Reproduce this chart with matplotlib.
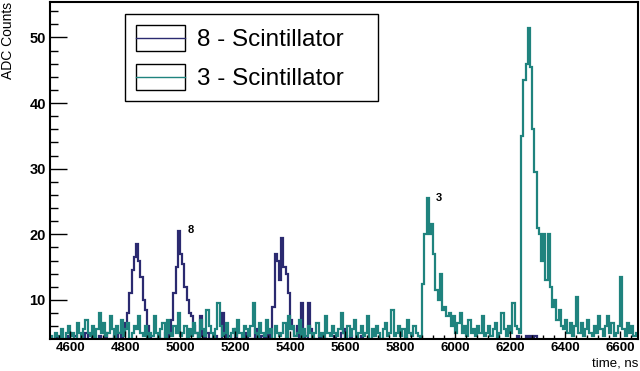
import numpy as np
import matplotlib
matplotlib.use("Agg")
import matplotlib.pyplot as plt
from matplotlib.legend_handler import HandlerBase
from matplotlib.patches import Rectangle
from matplotlib.lines import Line2D

plt.rcParams['font.family'] = ['Liberation Sans', 'DejaVu Sans']

# Binning of the time histograms (ns)
bin_start = 4528
bin_width = 8

# Counts per bin, scintillator 8 (navy)
counts_8 = [
    3, 3.5, 4.5, 3, 3, 4, 3, 3.5, 4.5, 3,
    3, 4.5, 3, 3, 4, 3, 5, 3, 3.5, 4.5,
    3, 3, 4.5, 3.5, 3, 5, 3, 4, 3, 4.5,
    3, 5, 4, 5, 6.5, 8, 11, 14.5, 16.5, 18.5,
    16, 13.5, 10, 8.5, 6, 4.5, 3, 4, 3, 3.5,
    4, 3, 5, 3.5, 5, 7, 11, 15, 20.5, 17,
    15.5, 12, 10, 8, 7.5, 6, 5, 4, 7.5, 4.5,
    3.5, 5, 3, 4, 3, 4.5, 3, 3.5, 8, 5,
    3, 4.5, 3, 3, 5.5, 3, 3.5, 4, 3, 5,
    3, 4, 3, 5.5, 3.5, 3, 4.5, 3, 5, 4,
    5, 9, 17, 16, 13, 19.5, 15, 14, 11, 7,
    5.5, 4.5, 6, 3.5, 9.5, 5, 4, 9.5, 5.5, 3,
    4, 3, 4.5, 3, 3, 4, 3, 3.5, 3, 4.5,
    3, 3, 5, 5.5, 4, 3, 4.5, 3, 3, 4,
    3, 4.5, 3, 3, 3.5, 3, 4, 3, 3, 3,
    3, 3, 4, 3, 3, 3, 3.5, 3, 3, 3,
    3, 4.5, 3, 3, 3, 3, 3, 4, 3, 3,
    3, 3, 3, 3, 3, 3, 3, 3, 3, 3,
    3, 3, 3, 4, 3, 3, 3, 3, 3, 3,
    3, 3, 3, 3, 3, 3, 3, 3, 3, 3,
    3, 3, 3, 3, 3, 3, 3, 3, 3, 3,
    3, 3, 4.5, 3, 3, 3, 4.5, 3, 4.5, 3,
    4.5, 3, 3, 3, 3, 3, 3, 3, 3, 3,
    3, 3, 3, 3, 3, 3, 3, 3, 3, 3,
    3, 3, 3, 3, 3, 3, 3, 3, 3, 3,
    3, 3, 3, 3, 3, 3, 3, 3, 3, 3,
    3, 3, 3, 3, 3, 3, 3,
]

# Counts per bin, scintillator 3 (teal)
counts_3 = [
    4.5, 4, 5, 4.5, 4, 5.5, 4, 5, 6, 4.5,
    5, 4, 6.5, 5, 4, 5.5, 7, 5, 4.5, 6,
    4, 5.5, 8, 5, 6.5, 4.5, 5, 7.5, 5.5, 4,
    6, 5, 7, 4.5, 5.5, 6.5, 4, 5, 6, 5.5,
    7.5, 5, 4.5, 6, 4, 5, 4.5, 7.5, 5, 4,
    5.5, 6.5, 4, 7, 5, 4.5, 6, 5, 8, 4.5,
    5, 6, 4, 5.5, 4.5, 6.5, 5, 4, 7, 5.5,
    4.5, 8.5, 6, 5, 4, 5.5, 9.5, 6, 4.5, 5,
    6.5, 4, 5, 5.5, 4.5, 7, 5, 4, 6, 5.5,
    4.5, 6, 9.5, 5, 4, 6.5, 5, 4.5, 7, 5,
    5.5, 4, 6, 5, 4.5, 5, 6.5, 4, 7.5, 5.5,
    6, 4.5, 5, 7, 4, 5.5, 4.5, 6, 5, 4,
    5, 6.5, 4.5, 5, 4, 7.5, 5, 4.5, 6, 5,
    4.5, 5.5, 8, 5, 4, 6, 4.5, 5.5, 7, 4,
    5, 6, 4.5, 5, 7.5, 4, 5.5, 4.5, 6, 5,
    4, 5.5, 6.5, 4.5, 5, 8.5, 4.5, 5, 6, 4.5,
    5.5, 4, 7, 5, 4.5, 6, 5, 4.5, 4, 12.5,
    20, 25.5, 20, 21.5, 17, 11.5, 10, 14, 8.5, 9,
    7.5, 8, 6, 7.5, 5, 6.5, 8, 5, 6, 4.5,
    7, 5, 5.5, 4.5, 6, 5, 7.5, 4.5, 5, 6,
    4.5, 5.5, 6.5, 4, 5, 8, 5.5, 4.5, 6, 5,
    9.5, 6, 5.5, 5, 35, 43.5, 46, 51.5, 45.5, 36,
    29.5, 21, 20, 16, 20, 13, 20, 12, 9, 10,
    7, 8.5, 6, 5.5, 7, 5, 6.5, 4.5, 6, 10.5,
    5, 6.5, 4.5, 5.5, 7, 5, 4.5, 6, 5, 7.5,
    5.5, 4.5, 6, 7.5, 5, 6.5, 4.5, 5, 6, 13.5,
    5.5, 4.5, 6.5, 5, 6, 4.5, 5,
]

labels = ['8 - Scintillator', '3 - Scintillator']
colors = ['#2b2a70', '#1f837e']

edges = bin_start + bin_width * np.arange(len(counts_8) + 1)


# Legend handle in ROOT style: a box with the line inside
class BoxLine(HandlerBase):
    def create_artists(self, legend, orig, xd, yd, w, h, fontsize, trans):
        box = Rectangle((-xd, -yd), w, h, facecolor='white', edgecolor='black',
                        lw=1, transform=trans)
        line = Line2D([-xd, -xd + w], [-yd + h / 2, -yd + h / 2],
                      color=orig.get_color(), lw=1, transform=trans)
        return [box, line]


fig = plt.figure(figsize=(6.4, 3.71), dpi=100)
ax = fig.add_axes([50 / 640, 32 / 371, 588 / 640, 337 / 371])

handles = []
for vals, col, lab in zip([counts_8, counts_3], colors, labels):
    ax.stairs(vals, edges, color=col, lw=1.6, baseline=None)
    handles.append(Line2D([], [], color=col, label=lab))

ax.set_xlim(4527, 6665)
ax.set_ylim(4.05, 55.4)

ax.set_xticks(np.arange(4600, 6601, 200))
ax.set_xticks(np.arange(4560, 6661, 40), minor=True)
ax.set_yticks([10, 20, 30, 40, 50])
ax.set_yticks(np.arange(6, 55, 2), minor=True)
ax.tick_params(which='both', direction='in', top=False, right=False)
ax.tick_params(axis='y', which='major', length=12, width=1, pad=3, labelsize=10.5)
ax.tick_params(axis='y', which='minor', length=6, width=1)
ax.tick_params(axis='x', which='major', length=6, width=1, pad=2, labelsize=9.5)
ax.tick_params(axis='x', which='minor', length=3, width=1)
for lab in ax.get_xticklabels() + ax.get_yticklabels():
    lab.set_fontweight('bold')
for sp in ax.spines.values():
    sp.set_linewidth(1.5)

# Peak labels
ax.text(5040, 20.7, '8', fontsize=8, fontweight='bold', ha='center', va='center')
ax.text(5940, 25.6, '3', fontsize=8, fontweight='bold', ha='center', va='center')

# Axis titles, ROOT places them at the ends of the axes
fig.text(8 / 640, 1 - 2 / 371, 'ADC Counts', rotation=90, ha='center', va='top', fontsize=10)
fig.text(638 / 640, 1 / 371, 'time, ns', ha='right', va='bottom', fontsize=9.5)

leg = ax.legend(handles=handles, handler_map={Line2D: BoxLine()},
                loc='upper left', bbox_to_anchor=(75 / 588, 325 / 337, 253 / 588, 0),
                mode='expand', borderaxespad=0, fontsize=17.5, fancybox=False,
                edgecolor='black', framealpha=1, handlelength=2.0,
                handleheight=1.3, handletextpad=0.5, labelspacing=0.5,
                borderpad=0.45)
leg.get_frame().set_linewidth(1)

fig.savefig('out.png', dpi=100)
